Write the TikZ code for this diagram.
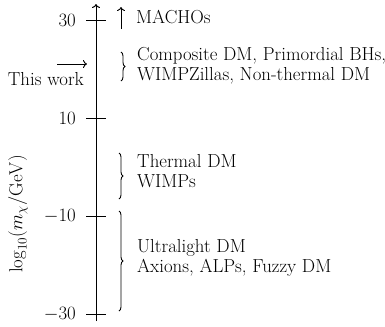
\RequirePackage{fix-cm}
\documentclass[tikz,border=0pt]{standalone}
\usetikzlibrary{decorations.pathreplacing,arrows.meta}
\newcommand{\bigsz}{\fontsize{18.9}{20.3}\selectfont}
\begin{document}
\begin{tikzpicture}[x=1bp,y=-1bp,
  lbl/.style={font=\bigsz,inner sep=0pt},
  txt/.style={font=\bigsz,inner sep=0pt,anchor=west,align=left},
  axisline/.style={line width=1bp},
  brc/.style={decorate,decoration={brace,amplitude=4bp},line width=0.9bp}]
\useasboundingbox (0,0) rectangle (385,327);
% axis
\coordinate (bot) at (96,321);
\coordinate (top) at (96,4);
\draw[axisline,-{To[length=4bp,width=8bp]}] (bot) -- (top);
% ticks
\foreach \yy/\lab in {20/30,118/10,216/-10,314/-30}{
  \draw[axisline] (86,\yy) -- (106,\yy);
  \node[lbl,anchor=east] at (76,\yy) {$\lab$};
}
% axis label
\node[lbl,rotate=90] (ylab) at (18,214) {$\log_{10}(m_\chi/\mathrm{GeV})$};
% MACHOs
\coordinate (ma) at (121,29);
\coordinate (mb) at (121,7);
\draw[line width=0.9bp,-{To[length=4bp,width=8bp]}] (ma) -- (mb);
\node[txt] (mach) at (136,17) {MACHOs};
% This work
\coordinate (twa) at (57,64);
\coordinate (twb) at (87,64);
\draw[line width=0.9bp,-{To[length=4bp,width=8bp]}] (twa) -- (twb);
\node[lbl,anchor=east] (tw) at (84,79) {This work};
% braces
\draw[brc] (121,52) -- (121,81);
\node[txt] (comp) at (137,66) {Composite DM, Primordial BHs,\\WIMPZillas, Non-thermal DM};
\draw[brc] (119,153) -- (119,199);
\node[txt] (therm) at (137,171) {Thermal DM\\WIMPs};
\draw[brc] (119,211) -- (119,311);
\node[txt] (ultra) at (137,258) {Ultralight DM\\Axions, ALPs, Fuzzy DM};
\end{tikzpicture}
\end{document}
